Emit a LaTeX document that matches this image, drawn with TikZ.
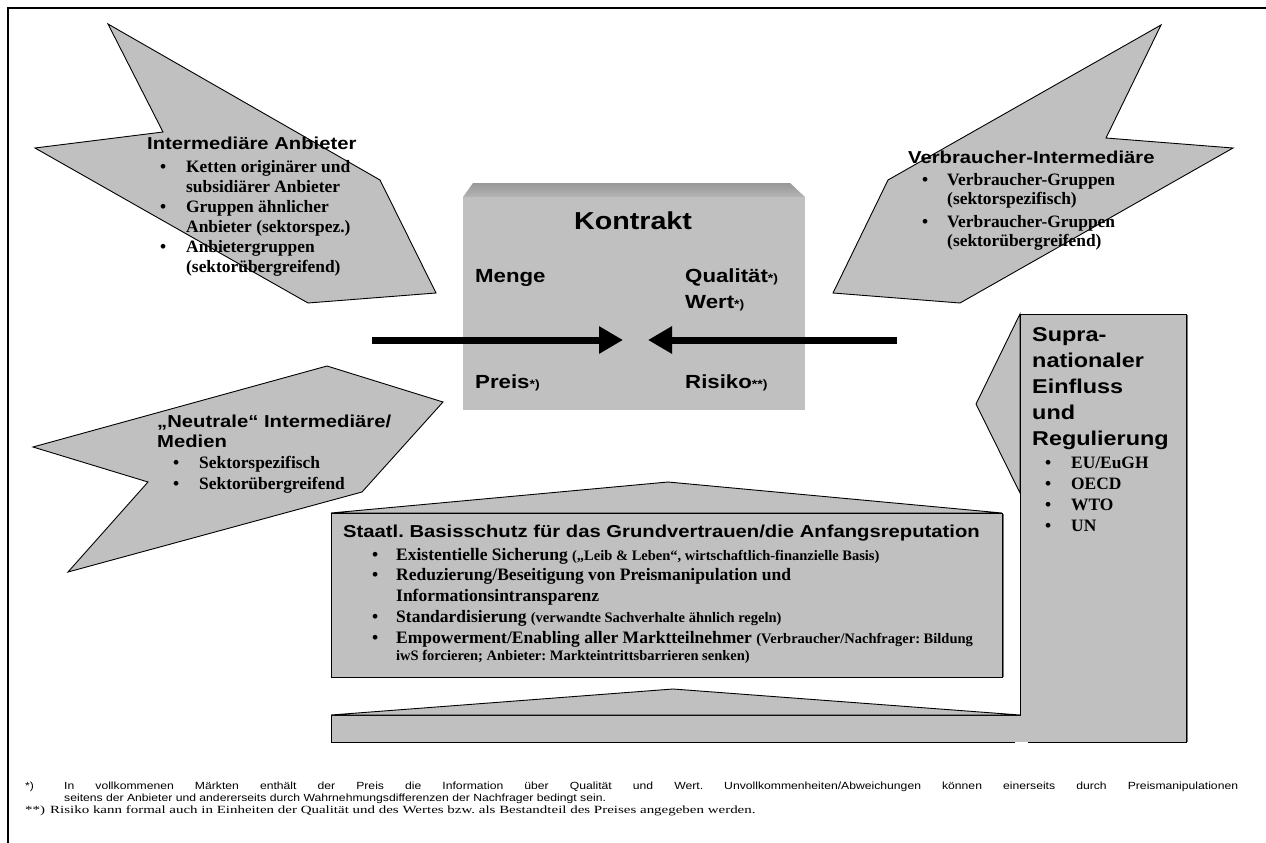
\documentclass[tikz,border=0pt]{standalone}
\usepackage{fontspec}
\setmainfont{Liberation Serif}
\newfontfamily\hv[FakeStretch=1.17]{Liberation Sans}
\newfontfamily\fnsans[FakeStretch=1.17]{Liberation Sans}
\newfontfamily\fnserif[FakeStretch=1.36]{Liberation Serif}
\usetikzlibrary{arrows.meta}
\definecolor{panel}{HTML}{C0C0C0}
\definecolor{bevelTop}{HTML}{989898}
\definecolor{bevelBot}{HTML}{B4B4B4}
\newcommand\smallmark[1]{{\fontsize{12}{12}\selectfont #1}}
\tikzset{
  panel/.style={fill=panel, draw=black, line width=0.9pt, line join=miter},
  panelfill/.style={fill=panel},
  head/.style={font=\hv\bfseries\fontsize{17.3}{20}\selectfont, inner sep=0pt, anchor=base west},
  supra/.style={font=\hv\bfseries\fontsize{20}{26}\selectfont, inner sep=0pt, anchor=base west, align=left},
  items/.style={inner sep=0pt, anchor=base west},
  cell/.style={font=\hv\bfseries\fontsize{19}{22}\selectfont, inner sep=0pt, anchor=base west},
  bigarrow/.style={line width=7pt, -{Triangle[length=24pt,width=26pt]}},
  note/.style={inner sep=0pt, anchor=base west},
}
\begin{document}
\frenchspacing
\begin{tikzpicture}[x=1pt,y=-1pt]
\useasboundingbox (0,0) rectangle (1266,843);
\fill[white] (0,0) rectangle (1266,843);

% page frame (top and left edges)
\draw[line width=1.8pt] (8,843) -- (8,8) -- (1266,8);

% --- notched arrows ---
\draw[panel] (108,24) -- (380,180) -- (436,293) -- (308,303) -- (35,148) -- (163,132) -- cycle;
\draw[panel] (888,180) -- (1161,25) -- (1106,138) -- (1233,148) -- (960,303) -- (833,293) -- cycle;
\draw[panel] (33,447) -- (327,366) -- (443,402) -- (362,492) -- (68,572) -- (148,482) -- cycle;

% --- state base protection: roof and box ---
\draw[panel] (331,513) -- (668,482) -- (1002,513) -- cycle;
\draw[panel] (331,513) rectangle (1002,677);
\draw[black!55, line width=1.2pt] (1003.5,514) -- (1003.5,677);

% --- supranational column with wedge and bottom bar ---
\fill[panelfill] (1020,314) rectangle (1186,742);
\fill[panelfill] (331,715) rectangle (1020,742);
\draw[panel] (1020,314) -- (976,404) -- (1020,493) -- cycle;
\draw[black, line width=0.9pt] (1020,715) -- (1020,314) -- (1186,314) -- (1186,742) -- (331,742) -- (331,715) -- cycle;
\draw[black!55, line width=1.4pt] (1187.5,315) -- (1187.5,742);
\draw[panel] (331,715) -- (673,689) -- (1020,715) -- cycle;
\draw[white, line width=1.6pt] (1015,742.5) -- (1028,742.5);

% --- contract block ---
\shade[top color=bevelTop, bottom color=bevelBot] (463,197) -- (473,183) -- (790,183) -- (805,197) -- cycle;
\fill[panelfill] (463,197) rectangle (805,410);
\node[font=\hv\bfseries\fontsize{24.5}{28}\selectfont, inner sep=0pt, anchor=base] (kontrakt) at (633,229) {Kontrakt};
\node[cell] (menge) at (475,282) {Menge};
\node[cell] (qual) at (685,282) {Qualität\smallmark{*)}};
\node[cell] (wert) at (685,308) {Wert\smallmark{*)}};
\node[cell] (preis) at (475,388) {Preis\smallmark{*)}};
\node[cell] (risiko) at (685,388) {Risiko\smallmark{**)}};

% --- converging arrows ---
\coordinate (lfrom) at (372,340);
\coordinate (lto) at (623,340);
\coordinate (rfrom) at (897,340);
\coordinate (rto) at (648,340);
\draw[bigarrow] (lfrom) -- (lto);
\draw[bigarrow] (rfrom) -- (rto);

% --- texts of the arrows ---
\node[head] (anbH) at (147,149) {Intermediäre Anbieter};
\node[items, font=\bfseries\fontsize{17.4}{20}\selectfont] (anbL) at (160,172) {%
  \begin{tabular}[t]{@{}p{26pt}@{}l@{}}
  \textbullet & Ketten originärer und\\
              & subsidiärer Anbieter\\
  \textbullet & Gruppen ähnlicher\\
              & Anbieter (sektorspez.)\\
  \textbullet & Anbietergruppen\\
              & (sektorübergreifend)
  \end{tabular}};

\node[head] (verH) at (908,163) {Verbraucher-Intermediäre};
\node[items, font=\bfseries\fontsize{17.4}{19}\selectfont] (verL) at (922,185) {%
  \begin{tabular}[t]{@{}p{25pt}@{}l@{}}
  \textbullet & Verbraucher-Gruppen\\
              & (sektorspezifisch)\\[4pt]
  \textbullet & Verbraucher-Gruppen\\
              & (sektorübergreifend)
  \end{tabular}};

% multi-line headings are placed by the baseline of their last line
\node[head, align=left] (neuH) at (157,447) {„Neutrale“ Intermediäre/\\Medien};
\node[items, font=\bfseries\fontsize{17.4}{21}\selectfont] (neuL) at (173,468) {%
  \begin{tabular}[t]{@{}p{26pt}@{}l@{}}
  \textbullet & Sektorspezifisch\\
  \textbullet & Sektorübergreifend
  \end{tabular}};

\node[supra] (supH) at (1032,445) {Supra-\\nationaler\\Einfluss\\und\\Regulierung};
\node[items, font=\bfseries\fontsize{17.4}{21.3}\selectfont] (supL) at (1045,468) {%
  \begin{tabular}[t]{@{}p{26pt}@{}l@{}}
  \textbullet & EU/EuGH\\
  \textbullet & OECD\\
  \textbullet & WTO\\
  \textbullet & UN
  \end{tabular}};

\node[head] (staH) at (343,537) {Staatl. Basisschutz für das Grundvertrauen/die Anfangsreputation};
\node[items, font=\bfseries\fontsize{17.5}{20.8}\selectfont] (staL) at (372,560) {%
  \begin{tabular}[t]{@{}p{24pt}@{}l@{}}
  \textbullet & Existentielle Sicherung {\fontsize{14.5}{17}\selectfont(„Leib \& Leben“, wirtschaftlich-finanzielle Basis)}\\
  \textbullet & Reduzierung/Beseitigung von Preismanipulation und\\
              & Informationsintransparenz\\
  \textbullet & Standardisierung {\fontsize{14.5}{17}\selectfont(verwandte Sachverhalte ähnlich regeln)}\\
  \textbullet & Empowerment/Enabling aller Marktteilnehmer {\fontsize{14.5}{17}\selectfont(Verbraucher/Nachfrager: Bildung}\\[-4pt]
              & {\fontsize{14.5}{17}\selectfont iwS forcieren; Anbieter: Markteintrittsbarrieren senken)}
  \end{tabular}};

% --- footnotes ---
\node[note, font=\fnsans\fontsize{10.4}{12}\selectfont] (n1m) at (25,789) {*)};
\node[note, font=\fnsans\fontsize{10.4}{12}\selectfont] (n1a) at (64,789) {\makebox[1174pt][s]{In vollkommenen Märkten enthält der Preis die Information über Qualität und Wert. Unvollkommenheiten/Abweichungen können einerseits durch Preismanipulationen}};
\node[note, font=\fnsans\fontsize{10.4}{12}\selectfont] (n1b) at (64,801) {seitens der Anbieter und andererseits durch Wahrnehmungsdifferenzen der Nachfrager bedingt sein.};
\node[note, font=\fnserif\fontsize{11}{12}\selectfont] (n2m) at (25,813) {**)};
\node[note, font=\fnserif\fontsize{11}{12}\selectfont] (n2a) at (50,813) {Risiko kann formal auch in Einheiten der Qualität und des Wertes bzw. als Bestandteil des Preises angegeben werden.};
\end{tikzpicture}
\end{document}
